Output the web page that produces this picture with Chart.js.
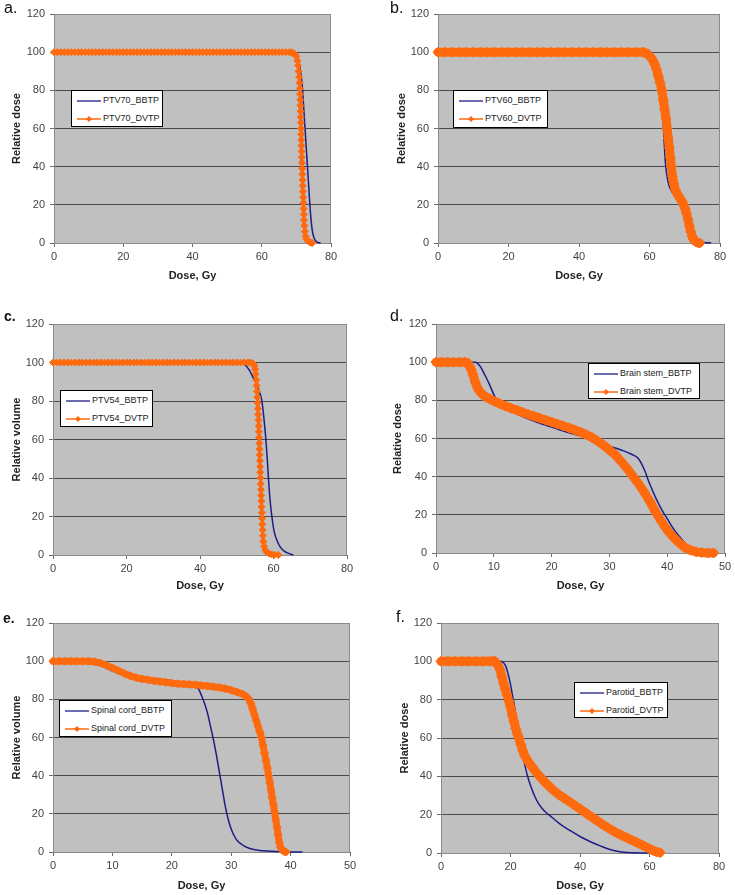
<!DOCTYPE html>
<html>
<head>
<meta charset="utf-8">
<script src="https://cdn.jsdelivr.net/npm/chart.js"></script>
<style>
  body { margin:0; background:#fff; width:735px; height:895px; position:relative; overflow:hidden;
         font-family:"Liberation Sans", Arial, sans-serif; }
  canvas { position:absolute; }
  .tag { position:absolute; font-size:16px; line-height:16px; color:#111; }
  .tag.small { font-size:14px; line-height:14px; font-weight:bold; }
  .lg { position:absolute; background:#fff; border:1px solid #000; box-sizing:border-box;
        font-size:9px; color:#222; }
  .lg .row { position:absolute; left:5px; height:12px; line-height:12px; white-space:nowrap; }
  .lg svg { vertical-align:middle; margin-right:2px; }
</style>
</head>
<body>
<script>
// ---- a. PTV70 ----
var aNames = ['PTV70_BBTP', 'PTV70_DVTP'];
var aBbtpDose = [0,10,20,30,40,50,60,68,69,70,70.6,71.2,71.6,71.8,72.15,72.5,72.85,73.2,73.55,73.9,74.3,74.7,75.2,76,77];
var aBbtpVol  = [100,100,100,100,100,100,100,100,99.8,99,96,90,84,80,70,60,50,40,30,20,11,5.5,2.2,0.5,0];
var aDvtpDose = [0,1,2,3,4,5,6,7,8,9,10,11,12,13,14,15,16,17,18,19,20,21,22,23,24,25,26,27,28,29,
  30,31,32,33,34,35,36,37,38,39,40,41,42,43,44,45,46,47,48,49,50,51,52,53,54,55,56,57,58,59,
  60,61,62,63,64,65,66,67,68,
  68.5,69,69.5,70,70.3,70.5,70.65,70.8,70.9,71.0,71.07,71.13,71.18,71.22,71.26,71.3,71.34,71.38,71.43,71.48,
  71.53,71.57,71.62,71.67,71.73,71.79,71.85,71.9,71.96,72.02,72.08,72.14,72.2,72.3,72.45,72.65,72.95,73.35,73.85,74.3,74.6];
var aDvtpVol = [100,100,100,100,100,100,100,100,100,100,100,100,100,100,100,100,100,100,100,100,
  100,100,100,100,100,100,100,100,100,100,100,100,100,100,100,100,100,100,100,100,
  100,100,100,100,100,100,100,100,100,100,100,100,100,100,100,100,100,100,100,100,
  100,100,100,100,100,100,100,100,100,
  99.9,99.6,99,97.8,95.5,93,90,87,84,81,78,75,72,69,66,63,60,57,54,51,
  48,45,42,39,36,33,30,27,24,21,18,15,12,9,6,3.5,2,1,0.4,0.1,0];

// ---- b. PTV60 ----
var bNames = ['PTV60_BBTP', 'PTV60_DVTP'];
var bBbtpDose = [0,10,20,30,40,50,58,59,60,61,62,62.7,63.3,63.8,64.1,64.4,64.8,65.4,66.3,67.3,68.5,69.8,70.8,71.6,72.4,73.2,74.2,75.5,77.5];
var bBbtpVol  = [100,100,100,100,100,100,100,99.8,99,96,90,83,75,65,55,45,37,31,27,24.5,22,19.5,16.5,12.5,7,3,1,0.3,0];
var bDvtpDose = [0,2,4,6,8,10,12,14,16,18,20,22,24,26,28,30,32,34,36,38,40,42,44,46,48,50,52,54,56,58,
  58.5,59,59.5,60,60.5,61,61.5,62,62.5,63,63.5,63.9,64.3,64.7,65.0,65.3,65.6,65.9,66.2,66.5,
  66.9,67.3,67.8,68.3,68.8,69.3,69.7,70.1,70.5,70.9,71.3,71.7,72.1,72.5,73,73.6,74.2];
var bDvtpVol = [100,100,100,100,100,100,100,100,100,100,100,100,100,100,100,100,100,100,100,100,
  100,100,100,100,100,100,100,100,100,100,
  99.8,99.5,99,98,97,95.5,93.5,91,87.5,84,80,75,70,65,60,55,50,45,40,35,
  31,28,26,24.5,23,21.5,20,18,15.5,12.5,9,6,3.5,1.8,0.8,0.3,0];

// ---- c. PTV54 ----
var cNames = ['PTV54_BBTP', 'PTV54_DVTP'];
var cBbtpDose = [0,10,20,30,40,50,50.4,51.5,52.5,53.5,54.5,55.4,56.1,56.8,57.4,57.9,58.3,58.6,59.0,59.5,60.2,61.3,62.4,63.6,65.4];
var cBbtpVol  = [100,100,100,100,100,100,100,99.5,98.3,95.8,92,89.2,85,80.5,71,60.6,50,40.7,30,20.8,12,6,2.8,1.2,0];
var cDvtpDose = [0,1,2,3,4,5,6,7,8,9,10,11,12,13,14,15,16,17,18,19,20,21,22,23,24,25,26,27,28,29,
  30,31,32,33,34,35,36,37,38,39,40,41,42,43,44,45,46,47,48,49,50,51,52,53,
  53.5,54,54.5,54.8,55.0,55.15,55.3,55.4,55.5,55.6,55.7,55.78,55.85,55.92,55.98,56.04,56.1,56.15,56.2,56.25,
  56.3,56.35,56.4,56.46,56.52,56.58,56.64,56.7,56.76,56.82,56.88,56.95,57.03,57.12,57.25,57.45,57.75,58.2,58.8,59.5,
  60.3,61.3];
var cDvtpVol = [100,100,100,100,100,100,100,100,100,100,100,100,100,100,100,100,100,100,100,100,
  100,100,100,100,100,100,100,100,100,100,100,100,100,100,100,100,100,100,100,100,
  100,100,100,100,100,100,100,100,100,100,100,100,100,100,
  100,99.8,99.3,98.3,96.5,94,91,88,85,82,79,76,73,70,67,64,61,58,55,52,
  49,46,43,40,37,34,31,28,25,22,19,16,13,10,7,4.5,2.6,1.4,0.7,0.3,
  0.1,0];

// ---- d. Brain stem ----
var dNames = ['Brain stem_BBTP', 'Brain stem_DVTP'];
var dBbtpDose = [0,5,6.8,7.6,8.5,9.3,10,10.5,11.5,13,15,17.5,20,23,26,28,30,32,34,35,36,37,38,39,40,41,42,43,44,45,46];
var dBbtpVol  = [100,100,100,98,93,88,83,80,77,74.5,71.5,68.5,66,63,60.5,58.5,56,54,51.5,49.5,44,36,29,23,18,13,9,5.5,2.5,0.8,0];
var dDvtpDose = [0,1,2,3,4,5,5.5,5.8,6.1,6.4,6.8,7.2,7.6,8.1,8.6,9.2,10,11,12,13,14,15,16,17,18,19,20,
  21,22,23,24,25,26,27,28,29,30,31,32,33,34,35,36,37,38,39,40,41,42,43,44,45,46,47,48];
var dDvtpVol = [100,100,100,100,100,100,99.5,98,96,93.5,89.5,86.5,84.5,83,81.8,80.8,79.6,78.3,77,75.8,74.8,73.7,72.6,71.6,70.6,69.6,68.6,
  67.6,66.6,65.6,64.5,63.3,62,60.5,58.5,56.5,54,51.5,48,44.5,40.5,36.5,32,27,21.5,16.5,12,8.5,5.5,3,1.5,0.6,0.2,0,0];

// ---- e. Spinal cord ----
var eNames = ['Spinal cord_BBTP', 'Spinal cord_DVTP'];
var eBbtpDose = [0,5,7,8,9,10,11,12,14,16,18,20,22,23,24,24.5,25,25.5,26,26.5,27,27.5,28,28.5,29,29.5,30,30.5,31,32,33,34,36,38,40,42];
var eBbtpVol  = [100,100,100,98.5,96.5,94.8,93.7,93,92,91.3,90.5,89.7,88.8,88,87,85.5,82,78,73,66,59,51,42,33,24,17,12,8.5,6,3.5,2,1.2,0.5,0.2,0,0];
var eDvtpDose = [0,1,2,3,4,5,6,7,8,9,10,11,12,13,14,15,16,17,18,19,20,21,22,23,24,25,26,27,28,29,30,31,32,
  32.5,33.0,33.3,33.6,33.9,34.2,34.5,34.8,35.1,35.35,35.6,35.85,36.1,36.3,36.5,36.7,36.9,37.1,37.3,37.5,
  37.7,37.9,38.1,38.3,38.6,38.9,39.2];
var eDvtpVol = [100,100,100,100,100,100,100,99.7,99,97.8,96.5,95,93.5,92.3,91.3,90.7,90.2,89.7,89.3,88.9,
  88.5,88.2,88,87.8,87.6,87.3,87,86.6,86.2,85.6,84.8,83.8,82.6,
  81.6,80,78,75,72,69,66,63,60,56,52,48,44,40,36.5,32.5,28.5,25,21,17,
  13,9,5,2.5,1,0.3,0];

// ---- f. Parotid ----
var fNames = ['Parotid_BBTP', 'Parotid_DVTP'];
var fBbtpDose = [0,5,10,15,17,17.5,18,18.5,19,19.5,20,20.5,21,21.5,22,22.5,23,23.5,24,24.5,25,26,27,28,29,30,32,34,36,38,40,42,44,46,48,50,52,55,60];
var fBbtpVol  = [100,100,100,100,100,99.8,99.3,98,95.5,92,88,83,78,72.5,67,61.5,56.5,51.5,47,43,39.5,34,29.5,26,23.5,21.5,18.5,15.5,13,10.8,8.6,6.8,5.1,3.6,2.2,1.2,0.5,0.1,0];
var fDvtpDose = [0,2,4,6,8,10,12,14,15,15.5,16,16.5,17,17.5,18,18.5,19,19.5,20,20.5,21,21.5,22,22.5,23,23.5,24,
  25,26,27,28,29,30,32,34,36,38,40,42,44,46,48,50,52,54,56,58,60,61,62,63];
var fDvtpVol = [100,100,100,100,100,100,100,100,100,100,99,97.5,95.5,92,88.5,85.5,82.5,79.5,76,72,68.5,65,62,59.5,56.5,53.5,51,
  48,45.5,43,40.8,38.8,36.8,33.3,30.3,28,25.5,23,20.5,18,15.5,13.2,11,9.2,7.5,5.8,4,2.2,1.3,0.6,0.2];

var yTicksMax = 120, yTicksStep = 20;
var xTitle = 'Dose, Gy';

var ORANGE = '#ff6a0e';
var NAVY = '#1d1d86';

// 패널 배치 (캔버스 영역, 플롯 영역, 제목/범례 위치)
var panels = [
  { tag:'a.', small:false, tagPos:[4,0],    names:aNames, yTitle:'Relative dose',   xMax:80, xStep:20,
    bd:aBbtpDose, bv:aBbtpVol, dd:aDvtpDose, dv:aDvtpVol, r:3.5, lw:3,
    box:[0,0,368,295],   plot:[54,14,331,243],   yTitleX:17,  xTitleY:276, legend:[71,90,92,37] },
  { tag:'b.', small:false, tagPos:[390,0],  names:bNames, yTitle:'Relative dose',   xMax:80, xStep:20,
    bd:bBbtpDose, bv:bBbtpVol, dd:bDvtpDose, dv:bDvtpVol, r:5, lw:9,
    box:[368,0,367,295], plot:[438,14,720,243],  yTitleX:402, xTitleY:276, legend:[453,90,95,38] },
  { tag:'c.', small:true,  tagPos:[4,309],  names:cNames, yTitle:'Relative volume', xMax:80, xStep:20,
    bd:cBbtpDose, bv:cBbtpVol, dd:cDvtpDose, dv:cDvtpVol, r:3.5, lw:3,
    box:[0,300,368,297], plot:[53,324,347,555],  yTitleX:17,  xTitleY:586, legend:[60,390,93,37] },
  { tag:'d.', small:false, tagPos:[390,308],names:dNames, yTitle:'Relative dose',   xMax:50, xStep:10,
    bd:dBbtpDose, bv:dBbtpVol, dd:dDvtpDose, dv:dDvtpVol, r:5, lw:9,
    box:[368,300,367,297], plot:[436,324,725,553], yTitleX:398, xTitleY:586, legend:[588,363,112,36] },
  { tag:'e.', small:true,  tagPos:[3,611],  names:eNames, yTitle:'Relative volume', xMax:50, xStep:10,
    bd:eBbtpDose, bv:eBbtpVol, dd:eDvtpDose, dv:eDvtpVol, r:4, lw:7,
    box:[0,600,368,295], plot:[53,623,350,852],  yTitleX:17,  xTitleY:886, legend:[59,700,113,37] },
  { tag:'f.', small:false, tagPos:[396,609],names:fNames, yTitle:'Relative dose',   xMax:80, xStep:20,
    bd:fBbtpDose, bv:fBbtpVol, dd:fDvtpDose, dv:fDvtpVol, r:5, lw:9,
    box:[368,600,367,295], plot:[441,623,719,853], yTitleX:405, xTitleY:886, legend:[574,682,94,36] }
];

function pts(xs, ys) {
  return xs.map(function(x, i){ return {x:x, y:ys[i]}; });
}

// 회색 플롯 배경과 테두리
var plotFrame = {
  id: 'plotFrame',
  beforeDraw: function(chart) {
    var a = chart.chartArea, c = chart.ctx;
    c.save();
    c.fillStyle = '#c0c0c0';
    c.fillRect(a.left, a.top, a.right - a.left, a.bottom - a.top);
    c.restore();
  },
  beforeDatasetsDraw: function(chart) {
    var a = chart.chartArea, c = chart.ctx;
    c.save();
    c.strokeStyle = '#8a8a8a';
    c.lineWidth = 1;
    c.strokeRect(a.left + 0.5, a.top + 0.5, a.right - a.left - 1, a.bottom - a.top);
    c.restore();
  }
};

var FONT = '"Liberation Sans", Arial, sans-serif';

function lineSym(withMarker) {
  var col = withMarker ? ORANGE : NAVY;
  var s = '<svg width="24" height="8"><line x1="0" y1="4" x2="24" y2="4" stroke="' + col + '" stroke-width="' + (withMarker ? 1.5 : 1.3) + '"/>';
  if (withMarker) s += '<polygon points="12,1 15,4 12,7 9,4" fill="' + col + '"/>';
  return s + '</svg>';
}

panels.forEach(function(p) {
  var bx = p.box, pl = p.plot;
  var cv = document.createElement('canvas');
  cv.width = bx[2]; cv.height = bx[3];
  cv.style.left = bx[0] + 'px'; cv.style.top = bx[1] + 'px';
  cv.style.width = bx[2] + 'px'; cv.style.height = bx[3] + 'px';
  document.body.appendChild(cv);

  var titleLH = 11 * 1.2;
  var yAxisW = pl[0] - bx[0];
  var xAxisH = bx[1] + bx[3] - pl[3];

  new Chart(cv.getContext('2d'), {
    type: 'line',
    data: {
      datasets: [
        { label: p.names[0], data: pts(p.bd, p.bv), borderColor: NAVY, borderWidth: 1.5,
          pointRadius: 0, cubicInterpolationMode: 'monotone', fill: false, order: 2, clip: false },
        { label: p.names[1], data: pts(p.dd, p.dv), borderColor: ORANGE, borderWidth: p.lw,
          pointStyle: 'rectRot', pointRadius: p.r, pointBackgroundColor: ORANGE, pointBorderColor: ORANGE,
          pointBorderWidth: 1, tension: 0, fill: false, order: 1, clip: false,
          borderJoinStyle: 'round', borderCapStyle: 'round' }
      ]
    },
    options: {
      responsive: false,
      animation: false,
      devicePixelRatio: 1,
      events: [],
      layout: { padding: { left: 0, bottom: 0, top: pl[1] - bx[1], right: bx[0] + bx[2] - pl[2] } },
      plugins: { legend: { display: false }, tooltip: { enabled: false } },
      scales: {
        x: {
          type: 'linear', min: 0, max: p.xMax,
          ticks: { stepSize: p.xStep, color: '#444', padding: 3, font: { family: FONT, size: 11 } },
          grid: { drawOnChartArea: false, tickLength: 4, color: '#6a6a6a' },
          border: { color: '#5a5a5a' },
          title: { display: true, text: xTitle, color: '#222',
                   font: { family: FONT, size: 11, weight: 'bold' },
                   padding: { top: 0, bottom: bx[1] + bx[3] - p.xTitleY - titleLH / 2 } },
          afterFit: function(s) { s.height = xAxisH; s.paddingLeft = 0; s.paddingRight = 0; }
        },
        y: {
          type: 'linear', min: 0, max: yTicksMax,
          ticks: { stepSize: yTicksStep, color: '#444', padding: 5, font: { family: FONT, size: 11 } },
          grid: { color: '#4a4a4a', tickColor: '#6a6a6a', tickLength: 4 },
          border: { color: '#6a6a6a' },
          title: { display: true, text: p.yTitle, color: '#222',
                   font: { family: FONT, size: 11, weight: 'bold' },
                   padding: { top: p.yTitleX - bx[0] - titleLH / 2, bottom: 0 } },
          afterFit: function(s) { s.width = yAxisW; s.paddingTop = 0; s.paddingBottom = 0; }
        }
      }
    },
    plugins: [plotFrame]
  });

  // 범례 (흰 상자)
  var lg = document.createElement('div');
  lg.className = 'lg';
  lg.style.left = p.legend[0] + 'px'; lg.style.top = p.legend[1] + 'px';
  lg.style.width = p.legend[2] + 'px'; lg.style.height = p.legend[3] + 'px';
  lg.innerHTML = '<div class="row" style="top:3px">' + lineSym(false) + p.names[0] + '</div>' +
                 '<div class="row" style="top:21px">' + lineSym(true) + p.names[1] + '</div>';
  document.body.appendChild(lg);

  // 패널 문자
  var tg = document.createElement('div');
  tg.className = 'tag' + (p.small ? ' small' : '');
  tg.style.left = p.tagPos[0] + 'px'; tg.style.top = p.tagPos[1] + 'px';
  tg.textContent = p.tag;
  document.body.appendChild(tg);
});
</script>
</body>
</html>
